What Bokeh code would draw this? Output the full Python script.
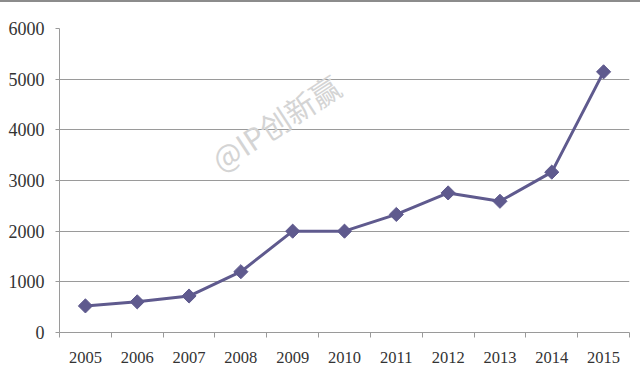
import math
from bokeh.plotting import figure
from bokeh.models import FixedTicker, Range1d, Label
from bokeh.embed import file_html
from bokeh.resources import INLINE

years = ["2005", "2006", "2007", "2008", "2009", "2010", "2011", "2012", "2013", "2014", "2015"]
counts = [525, 605, 720, 1200, 2000, 2000, 2330, 2755, 2590, 3165, 5145]
y_ticks = [0, 1000, 2000, 3000, 4000, 5000, 6000]
watermark = "@IP创新赢"

xs = list(range(len(years)))

p = figure(width=640, height=381, output_backend="svg", toolbar_location=None,
           x_range=Range1d(-0.5, len(years) - 0.5), y_range=Range1d(0, 6000),
           min_border_left=59, min_border_right=11, min_border_top=26, min_border_bottom=51,
           styles={"border-top": "2px solid #8c8c8c"})
p.outline_line_color = None
p.background_fill_color = "white"
p.border_fill_color = "white"

font = "Liberation Serif"
grey = "#9a9a9a"

p.xaxis.ticker = FixedTicker(ticks=xs, minor_ticks=[i - 0.5 for i in range(len(years) + 1)])
p.xaxis.major_label_overrides = {i: y for i, y in enumerate(years)}
p.xaxis.major_tick_out = 0
p.xaxis.major_tick_in = 0
p.xaxis.minor_tick_out = 5
p.xaxis.minor_tick_in = 0
p.xaxis.minor_tick_line_color = grey
p.xaxis.axis_line_color = grey
p.xaxis.major_label_text_font = font
p.xaxis.major_label_text_font_size = "16.5px"
p.xaxis.major_label_text_color = "#333333"
p.xaxis.major_label_standoff = 14

p.yaxis.ticker = FixedTicker(ticks=y_ticks)
p.yaxis.major_tick_out = 4
p.yaxis.major_tick_in = 0
p.yaxis.minor_tick_line_color = None
p.yaxis.major_tick_line_color = grey
p.yaxis.axis_line_color = grey
p.yaxis.major_label_text_font = font
p.yaxis.major_label_text_font_size = "18px"
p.yaxis.major_label_text_color = "#333333"
p.yaxis.major_label_standoff = 11

p.xgrid.grid_line_color = None
p.ygrid.grid_line_color = grey
p.ygrid.grid_line_width = 1.2

p.add_layout(Label(x=3.67, y=4150, text=watermark, angle=33, angle_units="deg",
                   text_align="center", text_baseline="middle",
                   text_font="Noto Sans CJK SC", text_font_size="30px",
                   text_color="#d4d4d4"))

color = "#5f5a8e"
p.line(xs, counts, line_color=color, line_width=3)
p.scatter(xs, counts, marker="square", size=10, angle=math.pi / 4,
          fill_color=color, line_color=color)

open("out.html", "w").write(file_html(p, INLINE))
